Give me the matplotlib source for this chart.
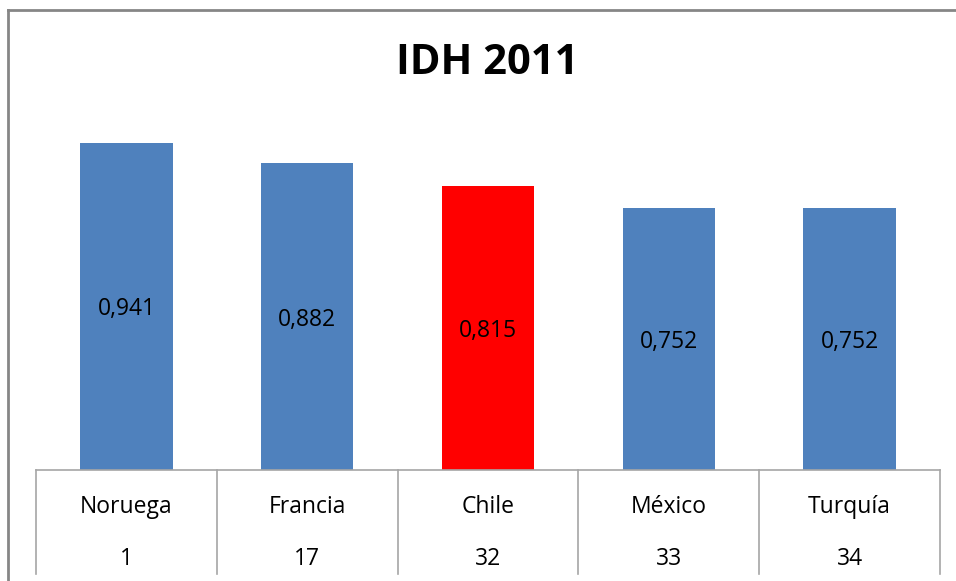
import matplotlib
matplotlib.use("Agg")
import matplotlib.pyplot as plt
from matplotlib.lines import Line2D

countries = ["Noruega", "Francia", "Chile", "México", "Turquía"]
ranks = ["1", "17", "32", "33", "34"]
values = [0.941, 0.882, 0.815, 0.752, 0.752]
labels = ["0,941", "0,882", "0,815", "0,752", "0,752"]
colors = ["#4F81BD", "#4F81BD", "#FF0000", "#4F81BD", "#4F81BD"]

W, H = 956, 581
fig = plt.figure(figsize=(W / 100, H / 100), dpi=100)
font = "Open Sans"
fs = 16.5

def fx(px):
    return px / W

def fy(py):
    return 1 - py / H

# plot area
left, right, base, top = 36, 940, 470, 122
ax = fig.add_axes([fx(left), fy(base), fx(right - left), (base - top) / H])
x = range(len(countries))
ax.bar(x, values, width=0.51, color=colors)
ax.set_xlim(-0.5, len(countries) - 0.5)
ax.set_ylim(0, 1.0)
ax.axis("off")
for i, (v, lab) in enumerate(zip(values, labels)):
    ax.annotate(lab, (i, v / 2), xytext=(0, -3), textcoords="offset pixels",
                ha="center", va="center", fontsize=fs, family=font, color="black")

# table below
tax = fig.add_axes([fx(left), 0, fx(right - left), fy(base)])
tax.set_xlim(-0.5, len(countries) - 0.5)
tax.set_ylim(H, base)
tax.axis("off")
tax.plot([-0.5, len(countries) - 0.5], [base, base], color="#A6A6A6", lw=1.2, clip_on=False)
for b in range(len(countries) + 1):
    tax.plot([b - 0.5, b - 0.5], [base, H - 7], color="#A6A6A6", lw=1.2, clip_on=False)
for i, (c, r) in enumerate(zip(countries, ranks)):
    tax.text(i, 507, c, ha="center", va="center", fontsize=fs, family=font, color="black")
    tax.text(i, 559, r, ha="center", va="center", fontsize=fs, family=font, color="black")

# title
fig.text(fx(487), fy(64), "IDH 2011", ha="center", va="center", fontsize=30,
         fontweight="bold", family=font, color="black")

# outer frame (left and top edges)
fig.add_artist(Line2D([fx(8), fx(8)], [fy(10), 0], color="#868686", lw=2))
fig.add_artist(Line2D([fx(8), 1], [fy(10), fy(10)], color="#868686", lw=2))

fig.savefig("out.png", dpi=100, facecolor="white")
